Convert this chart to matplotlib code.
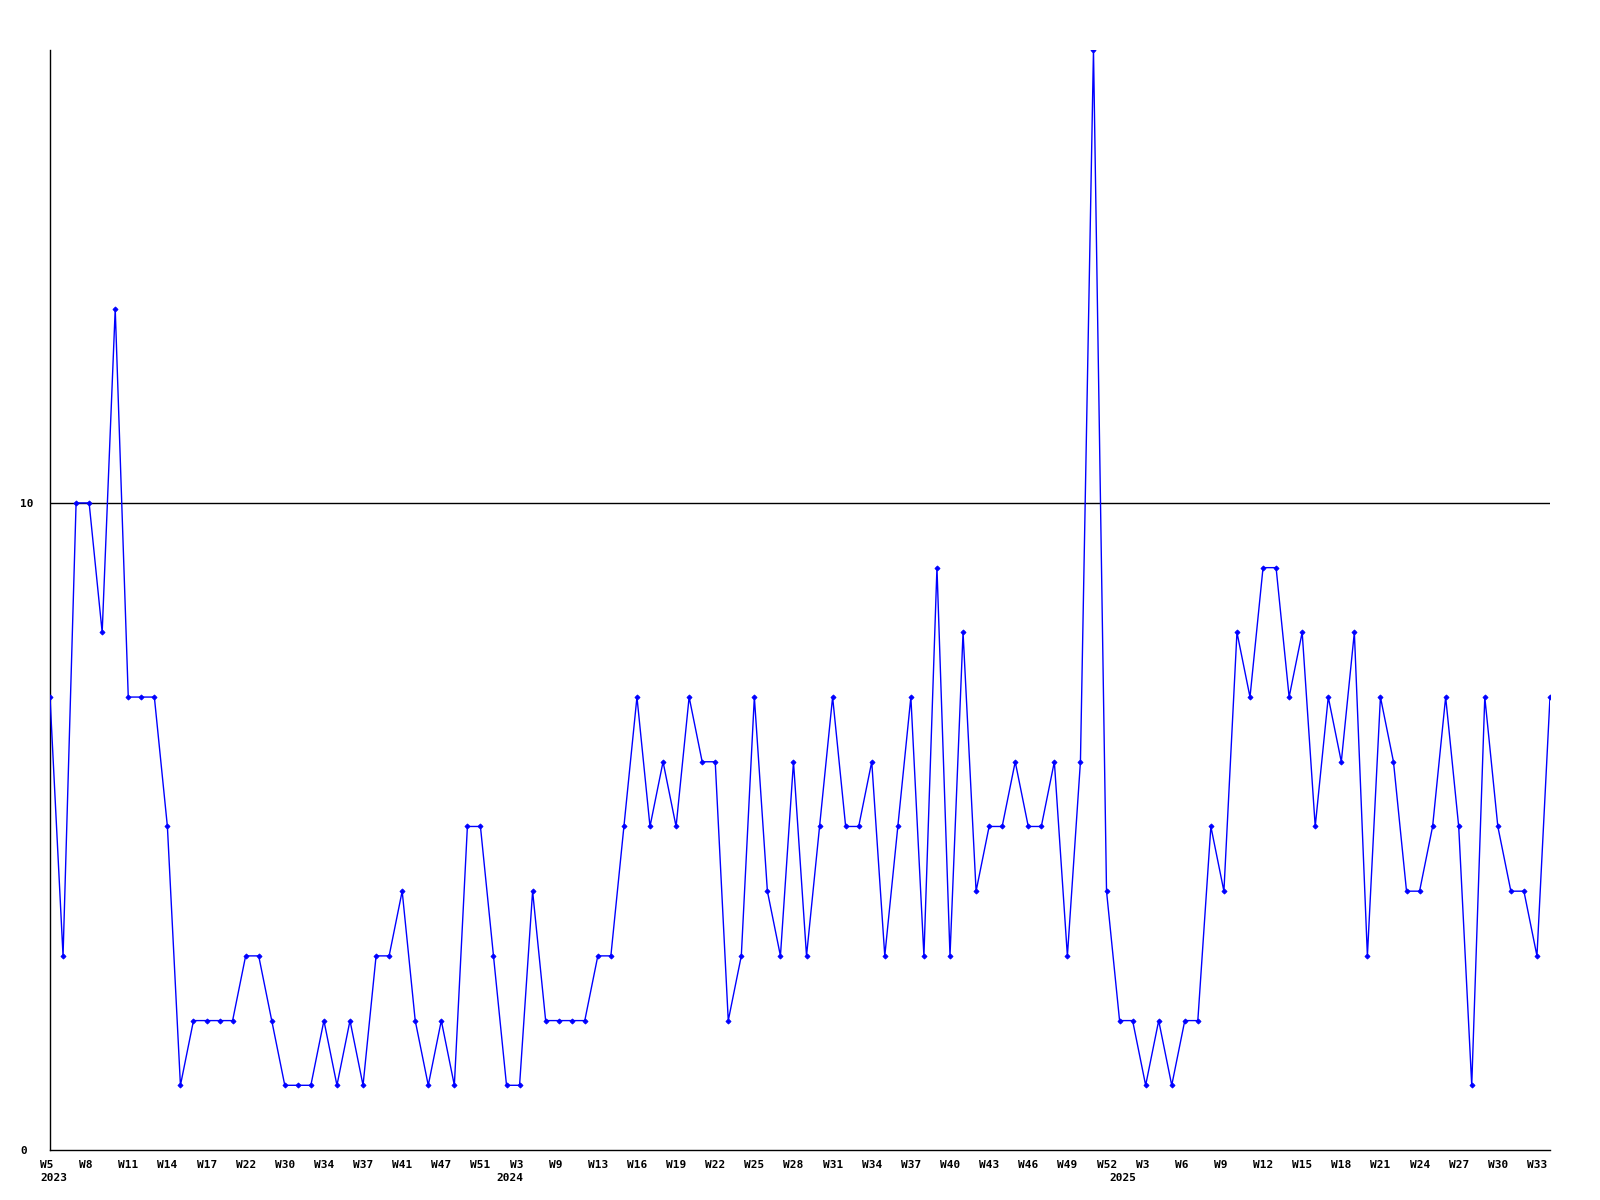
import matplotlib
matplotlib.use("Agg")
import matplotlib.pyplot as plt
import matplotlib.transforms as mtransforms

# ------------------------------------------------------------------
# Data : one value per week that has data (weeks without data skipped)
# ------------------------------------------------------------------
values = [
    7, 3, 10, 10, 8, 13, 7, 7, 7, 5,
    1, 2, 2, 2, 2, 3, 3, 2, 1, 1,
    1, 2, 1, 2, 1, 3, 3, 4, 2, 1,
    2, 1, 5, 5, 3, 1, 1, 4, 2, 2,
    2, 2, 3, 3, 5, 7, 5, 6, 5, 7,
    6, 6, 2, 3, 7, 4, 3, 6, 3, 5,
    7, 5, 5, 6, 3, 5, 7, 3, 9, 3,
    8, 4, 5, 5, 6, 5, 5, 6, 3, 6,
    17, 4, 2, 2, 1, 2, 1, 2, 2, 5,
    4, 8, 7, 9, 9, 7, 8, 5, 7, 6,
    8, 3, 7, 6, 4, 4, 5, 7, 5, 1,
    7, 5, 4, 4, 3, 7,
]

# label on every third point
tick_labels = [
    "W5", "W8", "W11", "W14", "W17", "W22", "W30", "W34", "W37", "W41",
    "W47", "W51", "W3", "W9", "W13", "W16", "W19", "W22", "W25", "W28",
    "W31", "W34", "W37", "W40", "W43", "W46", "W49", "W52", "W3", "W6",
    "W9", "W12", "W15", "W18", "W21", "W24", "W27", "W30", "W33",
]
tick_step = 3

# first point of each year
year_labels = ["2023", "2024", "2025"]
year_start = [0, 35, 82]

y_ticks = [0, 10]
y_max = 17

# ------------------------------------------------------------------
# Figure
# ------------------------------------------------------------------
W, H, DPI = 1600, 1200, 100
fig = plt.figure(figsize=(W / DPI, H / DPI), dpi=DPI)
ax = fig.add_axes([50 / W, 1 - 1150 / H, 1500 / W, 1100 / H])

font = dict(family="DejaVu Sans Mono", fontweight="bold", fontsize=8)

x = list(range(len(values)))
ax.plot(x, values, color="#0000ff", linewidth=1.0,
        marker="D", markersize=2.6, markeredgewidth=0.6,
        markerfacecolor="#0000ff", markeredgecolor="#0000ff", zorder=3)

ax.set_xlim(0, len(values) - 1)
ax.set_ylim(0, y_max)

# reference line at 10
for yt in y_ticks[1:]:
    ax.axhline(yt, color="black", linewidth=1.0, zorder=1)

for side in ("top", "right"):
    ax.spines[side].set_visible(False)
for side in ("left", "bottom"):
    ax.spines[side].set_linewidth(1.0)
    ax.spines[side].set_color("black")

# y labels (left aligned, away from axis)
ax.set_yticks(y_ticks)
ax.set_yticklabels([str(v) for v in y_ticks], **font)
ax.tick_params(axis="y", length=0, pad=21.6)
for lab in ax.get_yticklabels():
    lab.set_horizontalalignment("left")

# x labels: left edge 10 px before the point
ax.set_xticks([])
offset = mtransforms.ScaledTranslation(-10 / DPI, 0, fig.dpi_scale_trans)
trans = mtransforms.blended_transform_factory(ax.transData, fig.transFigure) + offset
for i, lab in enumerate(tick_labels):
    ax.text(i * tick_step, 1 - 1160 / H, lab, transform=trans,
            ha="left", va="top", clip_on=False, **font)
for lab, idx in zip(year_labels, year_start):
    ax.text(idx, 1 - 1173 / H, lab, transform=trans,
            ha="left", va="top", clip_on=False, **font)

fig.savefig("out.png", dpi=DPI, facecolor="white")
